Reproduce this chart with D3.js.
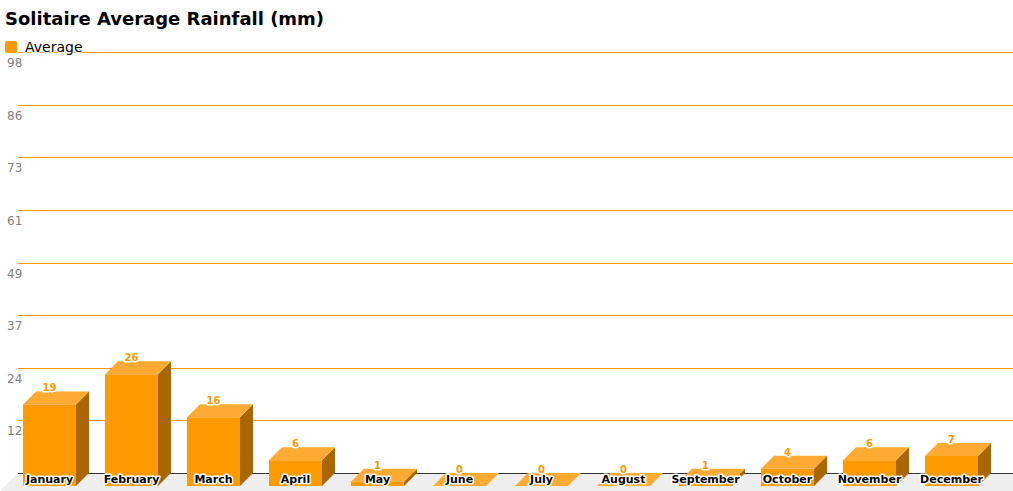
<!DOCTYPE html>
<html lang="en">
<head>
<meta charset="utf-8">
<title>Solitaire Average Rainfall</title>
<script src="https://cdn.jsdelivr.net/npm/d3@7"></script>
<style>
  body { margin: 0; background: #fff; }
  svg { display: block; font-family: "DejaVu Sans", Verdana, sans-serif; }
</style>
</head>
<body>
<script>
// data
var months = ["January", "February", "March", "April", "May", "June",
              "July", "August", "September", "October", "November", "December"];
var rainfall = [19, 26, 16, 6, 1, 0, 0, 0, 1, 4, 6, 7];
var tickLabels = ["12", "24", "37", "49", "61", "73", "86", "98"];
var seriesName = "Average";

var w = 1013, h = 491;
var depth = 13;         // 3d offset
var base = 473;         // back baseline
var left = 18;

var svg = d3.select("body").append("svg")
    .attr("width", w)
    .attr("height", h);

// scales
var yScale = d3.scaleLinear().domain([0, 98]).range([base, 52]);
var xScale = d3.scaleBand()
    .domain(months)
    .range([8.5, 992.5])
    .paddingInner(29 / 82)
    .paddingOuter(29 / 164);

// floor
svg.append("polygon")
    .attr("points", [[left, base], [w, base], [w, h], [left - 18, h]].map(function (p) { return p.join(","); }).join(" "))
    .attr("fill", "#eeeeee");

// gridlines (one extra above the top label)
var step = 98 / tickLabels.length;
var gridVals = d3.range(1, tickLabels.length + 2).map(function (i) { return i * step; });
svg.append("g").selectAll("line")
    .data(gridVals)
    .enter()
    .append("line")
    .attr("x1", left)
    .attr("x2", w)
    .attr("y1", function (d) { return Math.round(yScale(d)) + 0.5; })
    .attr("y2", function (d) { return Math.round(yScale(d)) + 0.5; })
    .attr("stroke", "#ff9900")
    .attr("stroke-width", 1);

svg.append("line")
    .attr("x1", left).attr("x2", w)
    .attr("y1", base + 0.5).attr("y2", base + 0.5)
    .attr("stroke", "#333")
    .attr("stroke-width", 1);

// y labels sit under their gridline
svg.append("g").selectAll("text")
    .data(tickLabels)
    .enter()
    .append("text")
    .attr("x", 7)
    .attr("y", function (d, i) { return yScale((i + 1) * step) + 15; })
    .attr("font-size", "12px")
    .attr("fill", "#808080")
    .text(function (d) { return d; });

// bars
var bw = xScale.bandwidth();
var bars = svg.append("g").selectAll("g")
    .data(rainfall)
    .enter()
    .append("g");

function pts(arr) {
    return arr.map(function (p) { return p.join(","); }).join(" ");
}

// side
bars.append("polygon")
    .attr("points", function (d, i) {
        var x0 = xScale(months[i]), yb = yScale(d);
        return pts([[x0 + bw, yb + depth], [x0 + bw + depth, yb], [x0 + bw + depth, base], [x0 + bw, base + depth]]);
    })
    .attr("fill", "#aa6600");

// front
bars.append("rect")
    .attr("x", function (d, i) { return xScale(months[i]); })
    .attr("y", function (d) { return yScale(d) + depth; })
    .attr("width", bw)
    .attr("height", function (d) { return base - yScale(d); })
    .attr("fill", "#ff9900");

// top
bars.append("polygon")
    .attr("points", function (d, i) {
        var x0 = xScale(months[i]), yb = yScale(d);
        return pts([[x0, yb + depth], [x0 + depth, yb], [x0 + bw + depth, yb], [x0 + bw, yb + depth]]);
    })
    .attr("fill", "#ffaa33");

// month labels
svg.append("g").selectAll("text")
    .data(months)
    .enter()
    .append("text")
    .attr("x", function (d) { return xScale(d) + bw / 2; })
    .attr("y", 483)
    .attr("text-anchor", "middle")
    .attr("font-size", "11px")
    .attr("font-weight", "bold")
    .attr("fill", "#000")
    .attr("stroke", "#fff")
    .attr("stroke-width", 3)
    .attr("stroke-linejoin", "round")
    .attr("paint-order", "stroke")
    .text(function (d) { return d; });

// value labels
svg.append("g").selectAll("text")
    .data(rainfall)
    .enter()
    .append("text")
    .attr("x", function (d, i) { return xScale(months[i]) + bw / 2; })
    .attr("y", function (d) { return yScale(d); })
    .attr("text-anchor", "middle")
    .attr("font-size", "10px")
    .attr("font-weight", "bold")
    .attr("fill", "#ff9900")
    .attr("stroke", "#fff")
    .attr("stroke-width", 3)
    .attr("stroke-linejoin", "round")
    .attr("paint-order", "stroke")
    .text(function (d) { return d; });

// title
svg.append("text")
    .attr("x", 5)
    .attr("y", 25)
    .attr("font-size", "18px")
    .attr("font-weight", "bold")
    .attr("fill", "#000")
    .text("Solitaire Average Rainfall (mm)");

// legend
svg.append("rect")
    .attr("x", 5).attr("y", 41)
    .attr("width", 12).attr("height", 12)
    .attr("rx", 2)
    .attr("fill", "#ff9900");

svg.append("text")
    .attr("x", 25)
    .attr("y", 52)
    .attr("font-size", "14px")
    .attr("fill", "#000")
    .attr("stroke", "#fff")
    .attr("stroke-width", 2)
    .attr("paint-order", "stroke")
    .text(seriesName);
</script>
</body>
</html>
